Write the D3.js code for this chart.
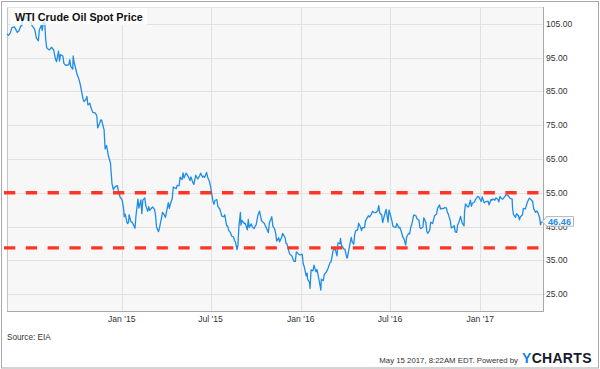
<!DOCTYPE html>
<html>
<head>
<meta charset="utf-8">
<script src="https://cdn.jsdelivr.net/npm/d3@7"></script>
<style>
  body { margin: 0; background: #fff; }
  svg { display: block; font-family: "Liberation Sans", Arial, sans-serif; }
</style>
</head>
<body>
<div id="chart"></div>
<script>
/*
 * Datos
 */
var fechas = [
  "2014-05-12","2014-05-15","2014-05-19","2014-05-22","2014-05-27","2014-05-29","2014-06-02","2014-06-05","2014-06-09","2014-06-11",
  "2014-06-13","2014-06-17","2014-06-19","2014-06-20","2014-06-24","2014-06-26","2014-06-30","2014-07-02","2014-07-07","2014-07-09",
  "2014-07-11","2014-07-15","2014-07-17","2014-07-21","2014-07-23","2014-07-25","2014-07-28","2014-07-30","2014-08-01","2014-08-05",
  "2014-08-07","2014-08-11","2014-08-13","2014-08-15","2014-08-19","2014-08-21","2014-08-25","2014-08-27","2014-08-29","2014-09-03",
  "2014-09-05","2014-09-09","2014-09-11","2014-09-15","2014-09-17","2014-09-19","2014-09-23","2014-09-24","2014-09-26","2014-09-30",
  "2014-10-02","2014-10-06","2014-10-08","2014-10-10","2014-10-14","2014-10-16","2014-10-20","2014-10-22","2014-10-24","2014-10-28",
  "2014-10-30","2014-11-03","2014-11-05","2014-11-07","2014-11-11","2014-11-13","2014-11-17","2014-11-19","2014-11-21","2014-11-25",
  "2014-11-26","2014-11-28","2014-12-01","2014-12-03","2014-12-05","2014-12-09","2014-12-11","2014-12-12","2014-12-15","2014-12-17",
  "2014-12-19","2014-12-23","2014-12-26","2014-12-29","2014-12-31",
  "2015-01-02","2015-01-05","2015-01-06","2015-01-08","2015-01-12","2015-01-13","2015-01-15","2015-01-16","2015-01-20","2015-01-22",
  "2015-01-26","2015-01-28","2015-01-30","2015-02-03","2015-02-05","2015-02-09","2015-02-11","2015-02-13","2015-02-17","2015-02-19",
  "2015-02-23","2015-02-25","2015-02-27","2015-03-03","2015-03-05","2015-03-09","2015-03-11","2015-03-13","2015-03-17","2015-03-19",
  "2015-03-23","2015-03-25","2015-03-27","2015-03-31","2015-04-02","2015-04-06","2015-04-08","2015-04-10","2015-04-14","2015-04-16",
  "2015-04-20","2015-04-22","2015-04-24","2015-04-28","2015-04-30","2015-05-04","2015-05-06","2015-05-08","2015-05-12","2015-05-14",
  "2015-05-18","2015-05-20","2015-05-22","2015-05-26","2015-05-28","2015-06-01","2015-06-03","2015-06-05","2015-06-09","2015-06-11",
  "2015-06-15","2015-06-17","2015-06-19","2015-06-23","2015-06-25","2015-06-29","2015-07-01","2015-07-06","2015-07-08","2015-07-10",
  "2015-07-14","2015-07-16","2015-07-20","2015-07-22","2015-07-24","2015-07-28","2015-07-30","2015-08-03","2015-08-05","2015-08-07",
  "2015-08-11","2015-08-13","2015-08-17","2015-08-19","2015-08-21","2015-08-24","2015-08-26","2015-08-27","2015-08-28","2015-08-31",
  "2015-09-01","2015-09-03","2015-09-08","2015-09-10","2015-09-14","2015-09-16","2015-09-18","2015-09-22","2015-09-24","2015-09-28",
  "2015-09-30","2015-10-02","2015-10-06","2015-10-09","2015-10-13","2015-10-15","2015-10-19","2015-10-21","2015-10-23","2015-10-27",
  "2015-10-29","2015-11-03","2015-11-05","2015-11-09","2015-11-11","2015-11-13","2015-11-17","2015-11-19","2015-11-23","2015-11-25",
  "2015-11-30","2015-12-02","2015-12-04","2015-12-08","2015-12-10","2015-12-14","2015-12-16","2015-12-18","2015-12-21","2015-12-23",
  "2015-12-28","2015-12-30",
  "2016-01-04","2016-01-06","2016-01-08","2016-01-12","2016-01-14","2016-01-15","2016-01-19","2016-01-20","2016-01-22","2016-01-26",
  "2016-01-28","2016-02-01","2016-02-03","2016-02-05","2016-02-09","2016-02-11","2016-02-12","2016-02-16","2016-02-18","2016-02-22",
  "2016-02-24","2016-02-26","2016-03-01","2016-03-03","2016-03-07","2016-03-09","2016-03-11","2016-03-15","2016-03-17","2016-03-21",
  "2016-03-22","2016-03-24","2016-03-29","2016-03-31","2016-04-04","2016-04-05","2016-04-07","2016-04-11","2016-04-13","2016-04-15",
  "2016-04-18","2016-04-20","2016-04-22","2016-04-26","2016-04-28","2016-05-02","2016-05-04","2016-05-06","2016-05-10","2016-05-12",
  "2016-05-16","2016-05-18","2016-05-20","2016-05-24","2016-05-26","2016-05-31","2016-06-02","2016-06-06","2016-06-08","2016-06-10",
  "2016-06-14","2016-06-16","2016-06-20","2016-06-23","2016-06-27","2016-06-29","2016-07-01","2016-07-05","2016-07-07","2016-07-11",
  "2016-07-13","2016-07-15","2016-07-19","2016-07-21","2016-07-25","2016-07-27","2016-07-29","2016-08-02","2016-08-04","2016-08-08",
  "2016-08-10","2016-08-12","2016-08-16","2016-08-18","2016-08-19","2016-08-23","2016-08-25","2016-08-29","2016-08-31","2016-09-02",
  "2016-09-06","2016-09-08","2016-09-12","2016-09-14","2016-09-16","2016-09-20","2016-09-22","2016-09-26","2016-09-28","2016-09-30",
  "2016-10-04","2016-10-06","2016-10-10","2016-10-12","2016-10-14","2016-10-18","2016-10-20","2016-10-24","2016-10-26","2016-10-28",
  "2016-11-01","2016-11-03","2016-11-07","2016-11-09","2016-11-11","2016-11-14","2016-11-16","2016-11-18","2016-11-22","2016-11-25",
  "2016-11-29","2016-11-30","2016-12-02","2016-12-06","2016-12-08","2016-12-12","2016-12-14","2016-12-16","2016-12-20","2016-12-22",
  "2016-12-27","2016-12-29",
  "2017-01-03","2017-01-05","2017-01-09","2017-01-11","2017-01-13","2017-01-17","2017-01-19","2017-01-23","2017-01-25","2017-01-27",
  "2017-01-31","2017-02-02","2017-02-06","2017-02-08","2017-02-10","2017-02-14","2017-02-16","2017-02-21","2017-02-23","2017-02-27",
  "2017-03-01","2017-03-03","2017-03-07","2017-03-08","2017-03-10","2017-03-14","2017-03-16","2017-03-20","2017-03-22","2017-03-24",
  "2017-03-28","2017-03-30","2017-04-03","2017-04-05","2017-04-07","2017-04-11","2017-04-13","2017-04-18","2017-04-20","2017-04-24",
  "2017-04-26","2017-04-28","2017-05-02","2017-05-04","2017-05-05","2017-05-08"
];

var precios = [
  102.0,101.6,102.4,103.9,104.1,103.6,102.5,102.8,104.4,104.4,
  106.9,106.4,107.0,107.3,106.0,105.8,105.4,104.5,103.5,102.3,
  100.8,100.0,103.2,104.6,103.1,105.4,105.5,100.3,97.9,97.4,
  97.3,98.1,97.6,97.4,94.5,93.8,96.9,94.0,95.9,95.5,
  93.3,92.7,92.8,92.9,94.4,92.4,91.6,95.5,93.5,91.2,
  90.0,88.5,87.3,85.8,82.8,82.0,82.7,83.5,81.0,81.5,
  80.3,78.8,78.7,78.7,77.9,74.2,75.6,76.6,76.5,74.1,
  73.7,68.0,69.0,67.4,65.8,63.8,59.9,57.8,55.9,56.5,
  56.8,57.1,55.0,53.6,53.3,
  52.7,50.1,47.9,48.7,46.1,45.9,46.3,48.5,46.4,46.3,
  45.2,44.5,48.2,53.1,50.5,52.9,48.8,52.8,53.5,51.2,
  49.5,50.9,49.8,50.5,50.8,50.0,48.2,44.8,43.5,44.7,
  47.5,49.2,48.9,47.7,49.1,52.1,50.4,51.6,53.3,56.7,
  56.4,56.2,57.2,57.1,59.6,58.9,60.9,59.4,60.8,60.5,
  59.4,58.6,59.7,58.0,57.5,60.2,59.6,59.1,60.1,60.8,
  59.6,59.9,59.6,61.0,59.7,58.3,56.9,52.5,51.6,52.7,
  53.0,50.9,50.2,49.2,48.1,47.9,48.5,45.2,45.2,43.9,
  43.1,42.2,41.9,40.8,40.4,38.2,39.6,42.6,45.2,49.2,
  45.4,46.8,45.9,45.9,44.0,47.1,44.7,45.8,44.9,44.4,
  45.1,45.5,48.5,49.6,46.7,46.4,45.9,45.2,44.6,43.2,
  46.1,47.9,45.2,44.2,42.9,40.7,41.7,40.5,41.8,43.0,
  41.7,40.0,39.9,37.5,36.8,36.3,35.5,34.7,34.7,37.5,
  36.8,36.6,
  36.8,34.0,33.2,30.4,31.2,29.4,28.5,26.7,32.2,31.9,
  33.6,31.6,32.3,30.9,27.9,26.2,29.4,29.0,30.8,31.5,
  32.1,32.8,34.4,34.6,37.9,38.3,38.5,36.3,40.2,39.9,
  41.5,39.5,38.3,38.3,35.7,35.7,37.3,40.4,41.8,40.4,
  39.8,42.6,43.7,44.0,46.0,44.8,43.8,44.7,44.7,46.7,
  47.7,48.2,47.8,48.6,49.5,49.1,49.1,49.7,51.2,49.1,
  48.5,46.2,48.5,50.1,46.3,49.9,48.9,46.6,45.1,44.8,
  44.8,45.9,44.6,44.8,43.1,41.9,41.6,39.5,41.9,43.0,
  42.8,44.5,46.6,48.2,48.5,48.1,47.3,46.9,44.7,44.4,
  44.8,47.6,46.3,43.6,43.0,43.9,46.3,45.9,47.1,48.2,
  48.7,50.4,51.4,50.2,50.4,50.3,50.6,50.5,49.2,48.7,
  46.7,44.6,44.9,45.3,43.4,43.3,45.6,46.0,48.0,46.1,
  45.2,49.4,51.7,50.9,50.8,52.8,51.0,51.9,52.2,52.9,
  53.9,53.8,
  52.4,53.8,52.0,52.3,52.4,52.5,51.4,53.0,52.8,53.2,
  52.8,53.5,53.0,52.3,53.9,53.2,53.1,54.1,54.5,54.1,
  53.8,53.3,53.2,50.3,48.5,47.7,48.8,48.2,47.0,47.9,
  48.4,50.4,50.2,51.2,52.2,53.4,53.2,52.4,50.3,49.2,
  49.6,49.3,47.7,45.5,46.2,46.46
];

// Ejes
var ticksY = [25, 35, 45, 55, 65, 75, 85, 95, 105];
var ticksX = ["2015-01-01", "2015-07-01", "2016-01-01", "2016-07-01", "2017-01-01"];
var etiquetasX = ["Jan '15", "Jul '15", "Jan '16", "Jul '16", "Jan '17"];

// Niveles marcados (lineas rojas)
var niveles = [55, 38.7];

/*
 * Dibujo
 */
var ancho = 600, alto = 369;
var izq = 7, der = 543, arriba = 7, abajo = 311;

var colorLinea = "#1f8de6";
var colorRojo = "#ff3527";
var colorGrilla = "#e1e1e1";

var parse = d3.timeParse("%Y-%m-%d");
var datos = fechas.map(function(f, i) { return { fecha: parse(f), valor: precios[i] }; });

var x = d3.scaleTime()
  .domain([parse("2014-05-12"), parse("2017-05-09")])
  .range([izq, der]);

var y = d3.scaleLinear()
  .domain([20, 110])
  .range([abajo, arriba]);

var svg = d3.select("#chart")
  .append("svg")
  .attr("width", ancho)
  .attr("height", alto);

// Borde exterior
svg.append("rect")
  .attr("x", 1.5).attr("y", 1.5)
  .attr("width", ancho - 3).attr("height", alto - 2.5)
  .attr("fill", "#fff")
  .attr("stroke", "#a9a9a9");

// Fondo del grafico
svg.append("rect")
  .attr("x", izq).attr("y", arriba)
  .attr("width", der - izq).attr("height", abajo - arriba)
  .attr("fill", "#f7f7f7");

// Grilla horizontal
svg.append("g")
  .selectAll("line")
  .data(ticksY)
  .enter().append("line")
  .attr("x1", izq).attr("x2", der)
  .attr("y1", function(d) { return Math.round(y(d)) + 0.5; })
  .attr("y2", function(d) { return Math.round(y(d)) + 0.5; })
  .attr("stroke", colorGrilla);

// Grilla vertical
svg.append("g")
  .selectAll("line")
  .data(ticksX)
  .enter().append("line")
  .attr("x1", function(d) { return Math.round(x(parse(d))) + 0.5; })
  .attr("x2", function(d) { return Math.round(x(parse(d))) + 0.5; })
  .attr("y1", arriba).attr("y2", abajo)
  .attr("stroke", colorGrilla);

// Bordes del area
svg.append("line").attr("x1", izq + 0.5).attr("x2", izq + 0.5).attr("y1", arriba).attr("y2", abajo)
  .attr("stroke", "#c4c4c4");
svg.append("line").attr("x1", izq).attr("x2", der).attr("y1", arriba + 0.5).attr("y2", arriba + 0.5)
  .attr("stroke", "#e4e4e4");
svg.append("line").attr("x1", der + 0.5).attr("x2", der + 0.5).attr("y1", arriba).attr("y2", abajo + 0.5)
  .attr("stroke", "#a9a9a9");
svg.append("line").attr("x1", izq).attr("x2", der + 1).attr("y1", abajo + 0.5).attr("y2", abajo + 0.5)
  .attr("stroke", "#a9a9a9");

// Linea de precios
var linea = d3.line()
  .x(function(d) { return x(d.fecha); })
  .y(function(d) { return y(d.valor); });

svg.append("path")
  .datum(datos)
  .attr("fill", "none")
  .attr("stroke", colorLinea)
  .attr("stroke-width", 1.3)
  .attr("stroke-linejoin", "round")
  .attr("d", linea);

// Lineas rojas punteadas
svg.append("g")
  .selectAll("line")
  .data(niveles)
  .enter().append("line")
  .attr("x1", 4).attr("x2", 540)
  .attr("y1", function(d) { return y(d); })
  .attr("y2", function(d) { return y(d); })
  .attr("stroke", colorRojo)
  .attr("stroke-width", 3.4)
  .attr("stroke-dasharray", "11.3,10.5");

// Titulo
svg.append("rect")
  .attr("x", 11).attr("y", arriba + 1)
  .attr("width", 136).attr("height", 17)
  .attr("fill", "#fff").attr("fill-opacity", 0.75);
svg.append("text")
  .attr("x", 15).attr("y", 20.5)
  .attr("font-size", "10.8px")
  .attr("font-weight", "bold")
  .attr("fill", "#111")
  .text("WTI Crude Oil Spot Price");

// Etiquetas eje Y
svg.append("g")
  .selectAll("text")
  .data(ticksY)
  .enter().append("text")
  .attr("x", 546)
  .attr("y", function(d) { return y(d) + 3; })
  .attr("font-size", "8.6px")
  .attr("fill", "#333")
  .text(function(d) { return d3.format(".2f")(d); });

// Etiquetas eje X
svg.append("g")
  .selectAll("text")
  .data(ticksX)
  .enter().append("text")
  .attr("x", function(d) { return x(parse(d)); })
  .attr("y", 322)
  .attr("text-anchor", "middle")
  .attr("font-size", "8.6px")
  .attr("fill", "#333")
  .text(function(d, i) { return etiquetasX[i]; });

// Etiqueta ultimo valor
var ultimo = datos[datos.length - 1];
var yUlt = y(ultimo.valor);
svg.append("path")
  .attr("d", "M" + (der - 0.5) + "," + yUlt + " L" + (der + 3) + "," + (yUlt - 4) +
             " L" + (der + 3) + "," + (yUlt - 5) + " L573.5," + (yUlt - 5) +
             " L573.5," + (yUlt + 4.5) + " L" + (der + 3) + "," + (yUlt + 4.5) +
             " L" + (der + 3) + "," + (yUlt + 4) + " Z")
  .attr("fill", "#fff")
  .attr("stroke", "#b5b5b5");
svg.append("text")
  .attr("x", 548)
  .attr("y", yUlt + 3.3)
  .attr("font-size", "9.2px")
  .attr("font-weight", "bold")
  .attr("fill", colorLinea)
  .text(d3.format(".2f")(ultimo.valor));

// Pie
svg.append("text")
  .attr("x", 7).attr("y", 340)
  .attr("font-size", "8.2px")
  .attr("fill", "#333")
  .text("Source: EIA");

svg.append("text")
  .attr("x", 518).attr("y", 362.5)
  .attr("text-anchor", "end")
  .attr("font-size", "7.8px")
  .attr("fill", "#333")
  .text("May 15 2017, 8:22AM EDT.  Powered by");

var logo = svg.append("text")
  .attr("x", 522).attr("y", 362.8)
  .attr("font-size", "14px")
  .attr("font-weight", "bold")
  .attr("letter-spacing", "0.3px");
logo.append("tspan").attr("fill", "#1b7fd9").text("Y");
logo.append("tspan").attr("fill", "#161b2b").text("CHARTS");
</script>
</body>
</html>
